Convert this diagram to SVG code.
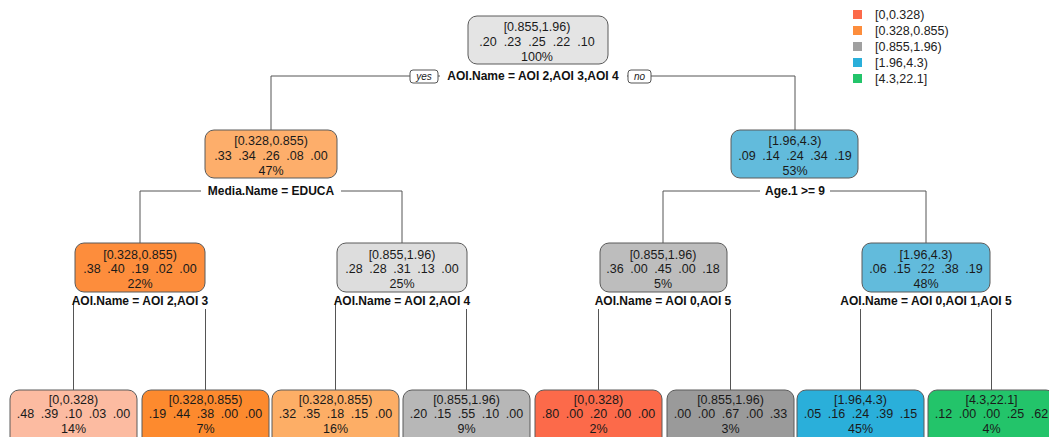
<svg xmlns="http://www.w3.org/2000/svg" width="1049" height="437" viewBox="0 0 1049 437">
<style>
.box{stroke:#5a5a5a;stroke-width:1}
.t{font-family:"Liberation Sans",Arial,sans-serif;font-size:12.5px;fill:#1a1a1a;text-anchor:middle}
.s{font-family:"Liberation Sans",Arial,sans-serif;font-size:12px;font-weight:bold;fill:#111;text-anchor:middle}
.yn{font-family:"Liberation Sans",Arial,sans-serif;font-size:10px;font-style:italic;fill:#222;text-anchor:middle}
.lg{font-family:"Liberation Sans",Arial,sans-serif;font-size:12.5px;fill:#222}
.c{stroke:#555;stroke-width:1;fill:none}
.bg{fill:#fff}
</style>
<rect width="1049" height="437" fill="#fff"/>
<g id="connectors">
<path class="c" d="M271,130V76H795V130"/>
<path class="c" d="M140,243V191H402V243"/>
<path class="c" d="M663,243V191H926V243"/>
<path class="c" d="M73.5,390V301H205.5V390"/>
<path class="c" d="M335.5,390V301H466.5V390"/>
<path class="c" d="M598.5,390V301H730.5V390"/>
<path class="c" d="M860.5,390V301H991.5V390"/>
</g>
<g id="split-labels">
<rect class="bg" x="440" y="69" width="187" height="15"/>
<text class="s" x="533" y="80">AOI.Name = AOI 2,AOI 3,AOI 4</text>
<rect x="410" y="70" width="28" height="13" rx="3" fill="#fff" stroke="#555"/>
<text class="yn" x="424" y="80">yes</text>
<rect x="628" y="70" width="23" height="13" rx="3" fill="#fff" stroke="#555"/>
<text class="yn" x="639.5" y="80">no</text>
<rect class="bg" x="201" y="184" width="140" height="15"/>
<text class="s" x="271" y="195">Media.Name = EDUCA</text>
<rect class="bg" x="760" y="184" width="70" height="15"/>
<text class="s" x="795" y="195">Age.1 &gt;= 9</text>
<rect class="bg" x="74" y="294" width="132" height="15"/>
<text class="s" x="140" y="305">AOI.Name = AOI 2,AOI 3</text>
<rect class="bg" x="336" y="294" width="132" height="15"/>
<text class="s" x="402" y="305">AOI.Name = AOI 2,AOI 4</text>
<rect class="bg" x="590" y="294" width="146" height="15"/>
<text class="s" x="663" y="305">AOI.Name = AOI 0,AOI 5</text>
<rect class="bg" x="834" y="294" width="184" height="15"/>
<text class="s" x="926" y="305">AOI.Name = AOI 0,AOI 1,AOI 5</text>
</g>
<g id="n0">
<rect class="box" x="468" y="16" width="140" height="48" rx="9" fill="#E4E4E4"/>
<text class="t" x="537" y="31">[0.855,1.96)</text>
<text class="t" y="46"><tspan x="488">.20</tspan><tspan x="512.5">.23</tspan><tspan x="537">.25</tspan><tspan x="561.5">.22</tspan><tspan x="586">.10</tspan></text>
<text class="t" x="537" y="61">100%</text>
</g>
<g id="n1">
<rect class="box" x="205" y="130" width="132" height="48" rx="9" fill="#FDAE6B"/>
<text class="t" x="271" y="145">[0.328,0.855)</text>
<text class="t" y="160"><tspan x="223">.33</tspan><tspan x="247">.34</tspan><tspan x="271">.26</tspan><tspan x="295">.08</tspan><tspan x="319">.00</tspan></text>
<text class="t" x="271" y="175">47%</text>
</g>
<g id="n2">
<rect class="box" x="731" y="130" width="127" height="48" rx="9" fill="#62BBDC"/>
<text class="t" x="795" y="145">[1.96,4.3)</text>
<text class="t" y="160"><tspan x="747">.09</tspan><tspan x="771">.14</tspan><tspan x="795">.24</tspan><tspan x="819">.34</tspan><tspan x="843">.19</tspan></text>
<text class="t" x="795" y="175">53%</text>
</g>
<g id="n3">
<rect class="box" x="75" y="243" width="130" height="49" rx="9" fill="#FD8D3C"/>
<text class="t" x="140" y="259">[0.328,0.855)</text>
<text class="t" y="273"><tspan x="92">.38</tspan><tspan x="116">.40</tspan><tspan x="140">.19</tspan><tspan x="164">.02</tspan><tspan x="188">.00</tspan></text>
<text class="t" x="140" y="288">22%</text>
</g>
<g id="n4">
<rect class="box" x="337" y="243" width="130" height="49" rx="9" fill="#DDDDDD"/>
<text class="t" x="402" y="259">[0.855,1.96)</text>
<text class="t" y="273"><tspan x="354">.28</tspan><tspan x="378">.28</tspan><tspan x="402">.31</tspan><tspan x="426">.13</tspan><tspan x="450">.00</tspan></text>
<text class="t" x="402" y="288">25%</text>
</g>
<g id="n5">
<rect class="box" x="600" y="243" width="127" height="49" rx="9" fill="#BDBDBD"/>
<text class="t" x="663" y="259">[0.855,1.96)</text>
<text class="t" y="273"><tspan x="615">.36</tspan><tspan x="639">.00</tspan><tspan x="663">.45</tspan><tspan x="687">.00</tspan><tspan x="711">.18</tspan></text>
<text class="t" x="663" y="288">5%</text>
</g>
<g id="n6">
<rect class="box" x="862" y="243" width="128" height="49" rx="9" fill="#62BBDC"/>
<text class="t" x="926" y="259">[1.96,4.3)</text>
<text class="t" y="273"><tspan x="878">.06</tspan><tspan x="902">.15</tspan><tspan x="926">.22</tspan><tspan x="950">.38</tspan><tspan x="974">.19</tspan></text>
<text class="t" x="926" y="288">48%</text>
</g>
<g id="l1">
<rect class="box" x="10" y="390" width="127" height="60" rx="9" fill="#FCBBA1"/>
<text class="t" x="73.5" y="404">[0,0.328)</text>
<text class="t" y="418"><tspan x="25.5">.48</tspan><tspan x="49.5">.39</tspan><tspan x="73.5">.10</tspan><tspan x="97.5">.03</tspan><tspan x="121.5">.00</tspan></text>
<text class="t" x="73.5" y="433">14%</text>
</g>
<g id="l2">
<rect class="box" x="142" y="390" width="127" height="60" rx="9" fill="#FD8A2E"/>
<text class="t" x="205.5" y="404">[0.328,0.855)</text>
<text class="t" y="418"><tspan x="157.5">.19</tspan><tspan x="181.5">.44</tspan><tspan x="205.5">.38</tspan><tspan x="229.5">.00</tspan><tspan x="253.5">.00</tspan></text>
<text class="t" x="205.5" y="433">7%</text>
</g>
<g id="l3">
<rect class="box" x="272" y="390" width="127" height="60" rx="9" fill="#FDAE66"/>
<text class="t" x="335.5" y="404">[0.328,0.855)</text>
<text class="t" y="418"><tspan x="287.5">.32</tspan><tspan x="311.5">.35</tspan><tspan x="335.5">.18</tspan><tspan x="359.5">.15</tspan><tspan x="383.5">.00</tspan></text>
<text class="t" x="335.5" y="433">16%</text>
</g>
<g id="l4">
<rect class="box" x="403" y="390" width="127" height="60" rx="9" fill="#B7B7B7"/>
<text class="t" x="466.5" y="404">[0.855,1.96)</text>
<text class="t" y="418"><tspan x="418.5">.20</tspan><tspan x="442.5">.15</tspan><tspan x="466.5">.55</tspan><tspan x="490.5">.10</tspan><tspan x="514.5">.00</tspan></text>
<text class="t" x="466.5" y="433">9%</text>
</g>
<g id="l5">
<rect class="box" x="535" y="390" width="127" height="60" rx="9" fill="#FC6A4A"/>
<text class="t" x="598.5" y="404">[0,0.328)</text>
<text class="t" y="418"><tspan x="550.5">.80</tspan><tspan x="574.5">.00</tspan><tspan x="598.5">.20</tspan><tspan x="622.5">.00</tspan><tspan x="646.5">.00</tspan></text>
<text class="t" x="598.5" y="433">2%</text>
</g>
<g id="l6">
<rect class="box" x="667" y="390" width="127" height="60" rx="9" fill="#9A9A9A"/>
<text class="t" x="730.5" y="404">[0.855,1.96)</text>
<text class="t" y="418"><tspan x="682.5">.00</tspan><tspan x="706.5">.00</tspan><tspan x="730.5">.67</tspan><tspan x="754.5">.00</tspan><tspan x="778.5">.33</tspan></text>
<text class="t" x="730.5" y="433">3%</text>
</g>
<g id="l7">
<rect class="box" x="797" y="390" width="127" height="60" rx="9" fill="#2AAFDA"/>
<text class="t" x="860.5" y="404">[1.96,4.3)</text>
<text class="t" y="418"><tspan x="812.5">.05</tspan><tspan x="836.5">.16</tspan><tspan x="860.5">.24</tspan><tspan x="884.5">.39</tspan><tspan x="908.5">.15</tspan></text>
<text class="t" x="860.5" y="433">45%</text>
</g>
<g id="l8">
<rect class="box" x="928" y="390" width="127" height="60" rx="9" fill="#23C46A"/>
<text class="t" x="991.5" y="404">[4.3,22.1]</text>
<text class="t" y="418"><tspan x="943.5">.12</tspan><tspan x="967.5">.00</tspan><tspan x="991.5">.00</tspan><tspan x="1015.5">.25</tspan><tspan x="1039.5">.62</tspan></text>
<text class="t" x="991.5" y="433">4%</text>
</g>
<g id="legend">
<rect x="853" y="10" width="9" height="9" fill="#FC6A4A"/>
<text class="lg" x="875" y="19">[0,0.328)</text>
<rect x="853" y="26" width="9" height="9" fill="#FD8D3C"/>
<text class="lg" x="875" y="35">[0.328,0.855)</text>
<rect x="853" y="42" width="9" height="9" fill="#A0A0A0"/>
<text class="lg" x="875" y="51">[0.855,1.96)</text>
<rect x="853" y="58" width="9" height="9" fill="#2AAFDA"/>
<text class="lg" x="875" y="67">[1.96,4.3)</text>
<rect x="853" y="74" width="9" height="9" fill="#23C46A"/>
<text class="lg" x="875" y="83">[4.3,22.1]</text>
</g>
</svg>
